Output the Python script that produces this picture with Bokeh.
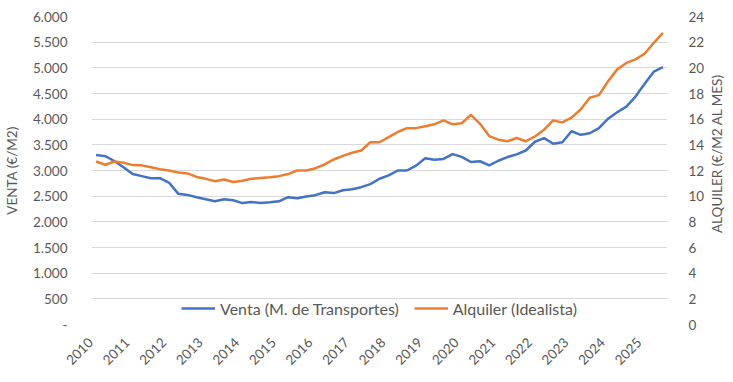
import math
from bokeh.plotting import figure
from bokeh.layouts import row
from bokeh.models import Range1d, LinearAxis, FixedTicker, Legend, LegendItem
from bokeh.core.properties import value
from bokeh.embed import file_html
from bokeh.resources import INLINE

# Quarterly series, 2010 Q1 .. 2025 Q3
venta = [3300, 3280, 3185, 3065, 2930, 2890, 2850, 2850, 2760, 2545,
         2525, 2480, 2440, 2400, 2440, 2420, 2365, 2385, 2365, 2380,
         2400, 2480, 2460, 2495, 2520, 2575, 2560, 2615, 2635, 2675,
         2735, 2840, 2905, 3000, 3000, 3095, 3240, 3210, 3225, 3320,
         3265, 3165, 3180, 3100, 3190, 3262, 3315, 3390, 3560, 3630,
         3520, 3550, 3765, 3695, 3725, 3825, 4010, 4135, 4245, 4440,
         4690, 4925, 5015]
alquiler = [12.70, 12.45, 12.70, 12.60, 12.42, 12.40, 12.25, 12.10, 12.00, 11.85,
            11.77, 11.50, 11.35, 11.17, 11.30, 11.10, 11.20, 11.35, 11.42, 11.48,
            11.56, 11.72, 12.00, 12.00, 12.18, 12.47, 12.86, 13.14, 13.38, 13.56,
            14.20, 14.20, 14.60, 15.00, 15.30, 15.30, 15.45, 15.60, 15.90, 15.60,
            15.68, 16.34, 15.64, 14.68, 14.40, 14.28, 14.53, 14.28, 14.65, 15.18,
            15.90, 15.75, 16.12, 16.75, 17.67, 17.87, 18.95, 19.88, 20.38, 20.66,
            21.10, 21.95, 22.72]
quarters = list(range(len(venta)))

years = [str(y) for y in range(2010, 2026)]
year_ticks = [4 * k for k in range(len(years))]

left_ticks = [0, 500, 1000, 1500, 2000, 2500, 3000, 3500, 4000, 4500, 5000, 5500, 6000]
left_labels = ["-", "500", "1.000", "1.500", "2.000", "2.500", "3.000", "3.500",
               "4.000", "4.500", "5.000", "5.500", "6.000"]
right_ticks = [0, 2, 4, 6, 8, 10, 12, 14, 16, 18, 20, 22, 24]

label_venta = "Venta (M. de Transportes)"
label_alq = "Alquiler (Idealista)"
title_left = "VENTA (€/M2)"
title_right = "ALQUILER (€/M2 AL MES)"

BLUE = "#4472C4"
ORANGE = "#ED7D31"
TXT = "#595959"
GRID = "#D9D9D9"
FONT = "Lato"
PAD = "\u2007"   # trailing figure space: moves each year's end toward its tick

p = figure(width=708, height=382, output_backend="svg", toolbar_location=None,
           x_range=Range1d(-0.5, len(venta) - 0.5), y_range=Range1d(0, 6000),
           min_border_left=86, min_border_right=41, min_border_top=16,
           min_border_bottom=58)
p.outline_line_color = None
p.background_fill_color = "white"
p.border_fill_color = "white"
p.extra_y_ranges = {"alq": Range1d(0, 24)}

p.xgrid.visible = False
p.ygrid.grid_line_color = GRID
p.ygrid.grid_line_width = 1
p.ygrid.ticker = FixedTicker(ticks=left_ticks)


def plain(ax):
    ax.axis_line_color = None
    ax.major_tick_line_color = None
    ax.minor_tick_line_color = None
    ax.major_label_text_color = TXT
    ax.major_label_text_font = FONT
    ax.major_label_text_font_size = "13.5px"
    ax.axis_label_text_color = TXT
    ax.axis_label_text_font = FONT
    ax.axis_label_text_font_size = "13.5px"
    ax.axis_label_text_font_style = "normal"


# left axis
ya = p.yaxis[0]
plain(ya)
ya.ticker = FixedTicker(ticks=left_ticks)
ya.major_label_overrides = {t: l for t, l in zip(left_ticks, left_labels)}
ya.major_label_standoff = 18
ya.axis_label = title_left
ya.axis_label_standoff = 10

# right axis (tick labels)
ra = LinearAxis(y_range_name="alq", ticker=FixedTicker(ticks=right_ticks))
plain(ra)
ra.major_label_standoff = 15
p.add_layout(ra, "right")

# x axis
xa = p.xaxis[0]
plain(xa)
xa.ticker = FixedTicker(ticks=year_ticks)
xa.major_label_overrides = {t: y + PAD for t, y in zip(year_ticks, years)}
xa.major_label_orientation = math.pi / 4
xa.major_label_standoff = 4

r1 = p.line(quarters, venta, line_color=BLUE, line_width=2.5, line_join="round")
r2 = p.line(quarters, alquiler, line_color=ORANGE, line_width=2.5, line_join="round",
            y_range_name="alq")

legend = Legend(items=[LegendItem(label=label_venta, renderers=[r1]),
                       LegendItem(label=label_alq, renderers=[r2])],
                orientation="horizontal", location="bottom_center",
                margin=6, padding=2, spacing=15, label_standoff=5,
                glyph_width=34, glyph_height=20,
                label_text_color=TXT, label_text_font=FONT,
                label_text_font_size="16px",
                background_fill_alpha=0, border_line_color=None)
p.add_layout(legend)

# right-hand axis title in a narrow strip, reading bottom to top
t = figure(width=25, height=382, output_backend="svg", toolbar_location=None,
           x_range=Range1d(0, 25), y_range=Range1d(0, 382),
           x_axis_type=None, y_axis_type=None, min_border=0)
t.outline_line_color = None
t.xgrid.visible = False
t.ygrid.visible = False
t.text(x=[8], y=[212], text=[title_right], angle=math.pi / 2,
       text_align="center", text_baseline="middle", text_color=TXT,
       text_font=value(FONT), text_font_size="13.5px")

layout = row(p, t)
open("out.html", "w").write(file_html(layout, INLINE))
